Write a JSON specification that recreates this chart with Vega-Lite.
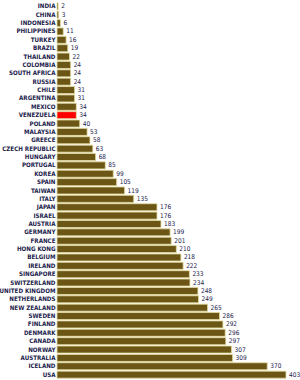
{
  "$schema": "https://vega.github.io/schema/vega-lite/v6.json",
  "width": 229,
  "height": 377,
  "autosize": {"type": "none"},
  "padding": {"left": 57, "top": 2, "right": 14, "bottom": 1},
  "background": "white",
  "config": {"view": {"stroke": null}},
  "data": {"values": [
    {"country": "INDIA", "value": 2, "hl": "n"},
    {"country": "CHINA", "value": 3, "hl": "n"},
    {"country": "INDONESIA", "value": 6, "hl": "n"},
    {"country": "PHILIPPINES", "value": 11, "hl": "n"},
    {"country": "TURKEY", "value": 16, "hl": "n"},
    {"country": "BRAZIL", "value": 19, "hl": "n"},
    {"country": "THAILAND", "value": 22, "hl": "n"},
    {"country": "COLOMBIA", "value": 24, "hl": "n"},
    {"country": "SOUTH AFRICA", "value": 24, "hl": "n"},
    {"country": "RUSSIA", "value": 24, "hl": "n"},
    {"country": "CHILE", "value": 31, "hl": "n"},
    {"country": "ARGENTINA", "value": 31, "hl": "n"},
    {"country": "MEXICO", "value": 34, "hl": "n"},
    {"country": "VENEZUELA", "value": 34, "hl": "y"},
    {"country": "POLAND", "value": 40, "hl": "n"},
    {"country": "MALAYSIA", "value": 53, "hl": "n"},
    {"country": "GREECE", "value": 58, "hl": "n"},
    {"country": "CZECH REPUBLIC", "value": 63, "hl": "n"},
    {"country": "HUNGARY", "value": 68, "hl": "n"},
    {"country": "PORTUGAL", "value": 85, "hl": "n"},
    {"country": "KOREA", "value": 99, "hl": "n"},
    {"country": "SPAIN", "value": 105, "hl": "n"},
    {"country": "TAIWAN", "value": 119, "hl": "n"},
    {"country": "ITALY", "value": 135, "hl": "n"},
    {"country": "JAPAN", "value": 176, "hl": "n"},
    {"country": "ISRAEL", "value": 176, "hl": "n"},
    {"country": "AUSTRIA", "value": 183, "hl": "n"},
    {"country": "GERMANY", "value": 199, "hl": "n"},
    {"country": "FRANCE", "value": 201, "hl": "n"},
    {"country": "HONG KONG", "value": 210, "hl": "n"},
    {"country": "BELGIUM", "value": 218, "hl": "n"},
    {"country": "IRELAND", "value": 222, "hl": "n"},
    {"country": "SINGAPORE", "value": 233, "hl": "n"},
    {"country": "SWITZERLAND", "value": 234, "hl": "n"},
    {"country": "UNITED KINGDOM", "value": 248, "hl": "n"},
    {"country": "NETHERLANDS", "value": 249, "hl": "n"},
    {"country": "NEW ZEALAND", "value": 265, "hl": "n"},
    {"country": "SWEDEN", "value": 286, "hl": "n"},
    {"country": "FINLAND", "value": 292, "hl": "n"},
    {"country": "DENMARK", "value": 296, "hl": "n"},
    {"country": "CANADA", "value": 297, "hl": "n"},
    {"country": "NORWAY", "value": 307, "hl": "n"},
    {"country": "AUSTRALIA", "value": 309, "hl": "n"},
    {"country": "ICELAND", "value": 370, "hl": "n"},
    {"country": "USA", "value": 403, "hl": "n"}
  ]},
  "encoding": {
    "y": {
      "field": "country", "type": "nominal", "sort": null,
      "scale": {"paddingInner": 0.16, "paddingOuter": 0.1},
      "axis": {
        "title": null, "domain": false, "ticks": false, "labelPadding": 2,
        "labelFont": "DejaVu Sans Condensed", "labelFontSize": 6.2, "labelFontWeight": "bold",
        "labelColor": "#1c1c4c"
      }
    },
    "x": {
      "field": "value", "type": "quantitative",
      "scale": {"domain": [0, 403], "nice": false},
      "axis": null
    }
  },
  "layer": [
    {
      "mark": {"type": "bar", "stroke": "#e6dca0", "strokeWidth": 0.8},
      "encoding": {
        "color": {
          "field": "hl", "type": "nominal",
          "scale": {"domain": ["n", "y"], "range": ["#6b5616", "#ff0000"]},
          "legend": null
        }
      }
    },
    {
      "mark": {"type": "text", "align": "left", "baseline": "middle", "dx": 3,
               "font": "DejaVu Sans Condensed", "fontSize": 6.5, "color": "#1c1c4c"},
      "encoding": {"text": {"field": "value", "type": "quantitative"}}
    }
  ]
}
